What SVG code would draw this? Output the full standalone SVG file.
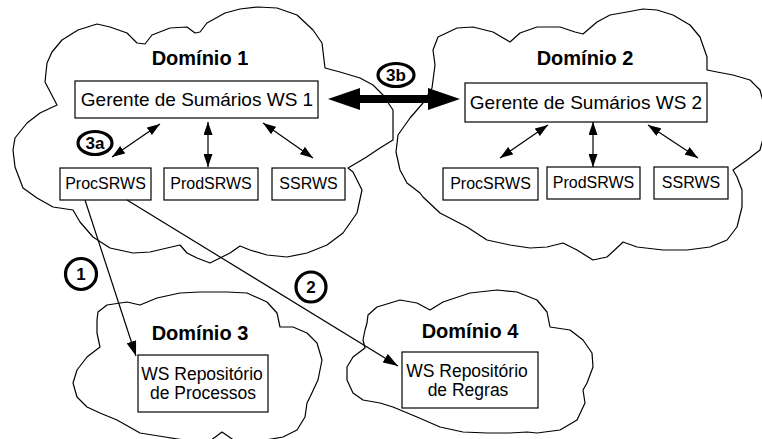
<svg xmlns="http://www.w3.org/2000/svg" width="762" height="439" viewBox="0 0 762 439">
  <defs>
    <style>
      .cloud { fill: none; stroke: #000; stroke-width: 1.2; stroke-linejoin: round; }
      .box { fill: #fff; stroke: #000; stroke-width: 1.2; }
      .title { font-family: "Liberation Sans", Arial, sans-serif; font-weight: bold; font-size: 20px; text-anchor: middle; fill: #000; }
      .mgr { font-family: "Liberation Sans", Arial, sans-serif; font-size: 19px; text-anchor: middle; fill: #000; }
      .svc { font-family: "Liberation Sans", Arial, sans-serif; font-size: 16px; text-anchor: middle; fill: #000; }
      .repo { font-family: "Liberation Sans", Arial, sans-serif; font-size: 17.5px; text-anchor: middle; fill: #000; }
      .step { fill: #fff; stroke: #000; stroke-width: 3.2; }
      .steptxt { font-family: "Liberation Sans", Arial, sans-serif; font-weight: bold; font-size: 17px; text-anchor: middle; fill: #000; }
      .link { fill: none; stroke: #000; stroke-width: 1.2; }
      .dbl { marker-start: url(#tip); marker-end: url(#tip); }
      .one { marker-end: url(#tipL); }
    </style>
    <marker id="tip" viewBox="0 0 13 9" refX="13" refY="4.5" markerWidth="13" markerHeight="9" markerUnits="userSpaceOnUse" orient="auto-start-reverse">
      <path d="M0,0 L13,4.5 L0,9 z" fill="#000"/>
    </marker>
    <marker id="tipL" viewBox="0 0 15 10" refX="15" refY="5" markerWidth="15" markerHeight="10" markerUnits="userSpaceOnUse" orient="auto">
      <path d="M0,0 L15,5 L0,10 z" fill="#000"/>
    </marker>
  </defs>

  <!-- Domínio 1 -->
  <g id="dominio1">
    <polygon class="cloud" points="15,138 13,150 15,167 23,188 37,198 53,207 73,210 80,222 93,237 110,248 133,253 150,252 180,245 187,253 197,258 210,263 230,253 240,246 250,250 267,255 287,257 307,253 327,245 343,233 357,213 362,190 353,172 348,168 365,158 380,148 393,140 393,110 383,95 373,85 360,78 340,72 325,68 322,43 313,30 297,15 277,8 258,7 240,9 225,13 207,23 200,32 195,33 187,27 170,28 152,35 145,44 137,43 127,33 110,27 97,24 78,30 62,40 52,52 47,63 45,82 57,105 40,113 27,123"/>
    <text class="title" x="200" y="65">Domínio 1</text>
  </g>

  <!-- Domínio 2 -->
  <g id="dominio2">
    <polygon class="cloud" points="435,65 433,50 438,37 457,28 473,27 493,32 510,42 520,33 537,27 560,27 575,32 583,34 597,22 610,15 627,12 643,9 657,10 673,15 690,25 700,37 707,57 707,70 717,72 733,75 750,80 760,90 768,120 760,150 747,160 733,170 737,177 742,190 742,207 737,227 727,240 710,247 687,250 663,250 637,247 623,242 620,245 607,257 593,260 577,250 563,243 547,247 530,248 510,245 487,240 467,227 440,213 423,197 420,193 407,183 400,170 396,152 398,135 410,118 423,103 432,88"/>
    <text class="title" x="585" y="65">Domínio 2</text>
  </g>

  <!-- Domínio 3 -->
  <g id="dominio3">
    <polygon class="cloud" points="97,320 98,312 107,305 127,302 140,305 157,298 180,293 200,292 227,292 247,293 267,302 277,313 280,327 293,327 307,333 317,343 322,360 318,380 310,397 307,403 305,417 297,430 283,437 260,441 235,441 222,432 210,441 190,441 165,437 140,433 117,420 100,413 87,407 77,397 73,383 77,370 87,357 100,347 97,333"/>
    <text class="title" x="200" y="340">Domínio 3</text>
  </g>

  <!-- Domínio 4 -->
  <g id="dominio4">
    <polygon class="cloud" points="367,323 368,315 377,307 400,300 417,303 430,310 443,302 470,293 497,290 517,292 537,300 547,312 550,327 570,330 583,340 592,353 593,367 587,383 583,390 585,403 577,420 560,430 537,433 527,432 510,433 487,433 463,432 440,427 417,417 393,407 380,403 363,400 353,393 347,380 347,367 353,357 365,348 363,340 365,330"/>
    <text class="title" x="470" y="338">Domínio 4</text>
  </g>

  <!-- Domain 1 services -->
  <g id="gerente1">
    <rect class="box" x="75" y="81" width="243" height="37"/>
    <text class="mgr" x="197" y="106">Gerente de Sumários WS 1</text>
  </g>
  <g id="procsrws1">
    <rect class="box" x="60" y="168" width="91" height="32"/>
    <text class="svc" x="105.5" y="189">ProcSRWS</text>
  </g>
  <g id="prodsrws1">
    <rect class="box" x="164" y="168" width="94" height="32"/>
    <text class="svc" x="211" y="189">ProdSRWS</text>
  </g>
  <g id="ssrws1">
    <rect class="box" x="272" y="168" width="73" height="32"/>
    <text class="svc" x="308.5" y="189">SSRWS</text>
  </g>

  <!-- Domain 2 services -->
  <g id="gerente2">
    <rect class="box" x="465" y="83" width="242" height="39"/>
    <text class="mgr" x="586" y="109">Gerente de Sumários WS 2</text>
  </g>
  <g id="procsrws2">
    <rect class="box" x="443" y="168" width="95" height="32"/>
    <text class="svc" x="490.5" y="189">ProcSRWS</text>
  </g>
  <g id="prodsrws2">
    <rect class="box" x="547" y="167" width="93" height="32"/>
    <text class="svc" x="593.5" y="188">ProdSRWS</text>
  </g>
  <g id="ssrws2">
    <rect class="box" x="654" y="167" width="74" height="32"/>
    <text class="svc" x="691" y="188">SSRWS</text>
  </g>

  <!-- Repositories -->
  <g id="repo-processos">
    <rect class="box" x="138" y="355" width="130" height="57"/>
    <text class="repo" x="202" y="380">WS Repositório</text>
    <text class="repo" x="203" y="399">de Processos</text>
  </g>
  <g id="repo-regras">
    <rect class="box" x="402" y="352" width="136" height="56"/>
    <text class="repo" x="467" y="377">WS Repositório</text>
    <text class="repo" x="468" y="396">de Regras</text>
  </g>

  <!-- Connectors -->
  <g id="connectors">
    <line class="link dbl" x1="160" y1="124" x2="112" y2="157"/>
    <line class="link dbl" x1="208" y1="122" x2="208" y2="167"/>
    <line class="link dbl" x1="263" y1="123" x2="313" y2="158"/>
    <line class="link dbl" x1="548" y1="125" x2="500" y2="158"/>
    <line class="link dbl" x1="593" y1="122" x2="593" y2="167"/>
    <line class="link dbl" x1="648" y1="125" x2="698" y2="158"/>
    <line class="link one" x1="85" y1="200" x2="136" y2="356"/>
    <line class="link one" x1="127" y1="200" x2="398" y2="366"/>
    <polygon fill="#000" points="328,99 360,88 360,95 428,95 428,88 460,99 428,110 428,103 360,103 360,110"/>
  </g>

  <!-- Step markers -->
  <g id="step-3a">
    <ellipse class="step" cx="95" cy="143" rx="17" ry="11.5"/>
    <text class="steptxt" x="95" y="149">3a</text>
  </g>
  <g id="step-3b">
    <ellipse class="step" cx="396" cy="75" rx="18" ry="11.5"/>
    <text class="steptxt" x="396" y="81">3b</text>
  </g>
  <g id="step-1">
    <circle class="step" cx="81" cy="274" r="15.5"/>
    <text class="steptxt" x="81" y="280">1</text>
  </g>
  <g id="step-2">
    <circle class="step" cx="311" cy="287" r="15"/>
    <text class="steptxt" x="311" y="293">2</text>
  </g>
</svg>
